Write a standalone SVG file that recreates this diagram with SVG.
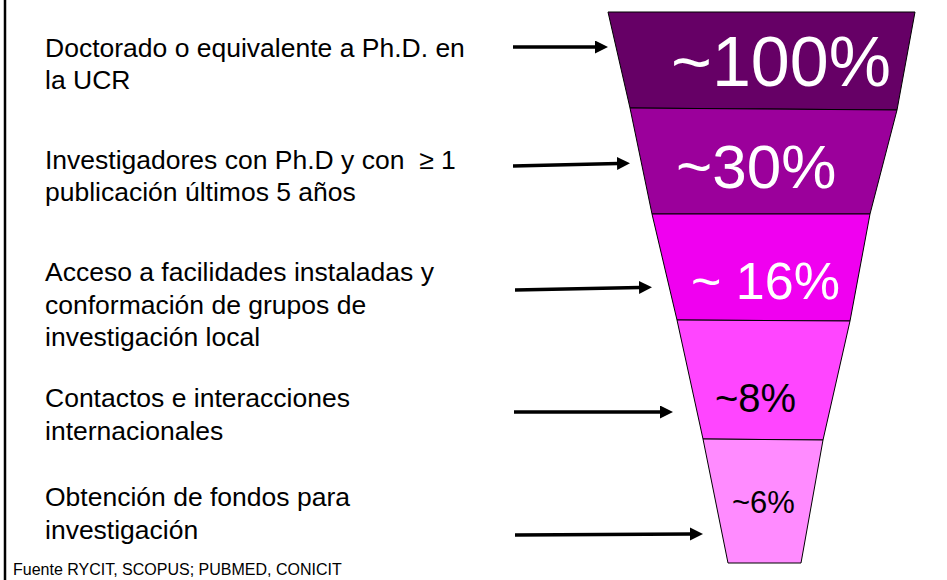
<svg xmlns="http://www.w3.org/2000/svg" width="947" height="580" viewBox="0 0 947 580">
<style>
text{font-family:"Liberation Sans",Arial,sans-serif}
.lbl{font-size:26.5px;fill:#000}
.band{stroke:#000;stroke-width:1}
.pw{fill:#fff}
.pb{fill:#000}
.arr{stroke:#000;stroke-width:3.5;fill:none;marker-end:url(#ah)}
</style>
<defs>
<marker id="ah" markerUnits="userSpaceOnUse" markerWidth="14" markerHeight="14" refX="1" refY="6.5" orient="auto">
<path d="M0,0 L13,6.5 L0,13 z" fill="#000"/>
</marker>
</defs>
<rect width="947" height="580" fill="#fff"/>
<line x1="5" y1="0" x2="5" y2="580" stroke="#000" stroke-width="2.5"/>

<g id="band1">
<polygon class="band" fill="#660066" points="608,12 915,12 897,110 630,108"/>
<text class="pw" x="671" y="86" font-size="70">~100%</text>
</g>
<g id="band2">
<polygon class="band" fill="#9B009B" points="630,108 897,110 870,214 652,214"/>
<text class="pw" x="676" y="188" font-size="62">~30%</text>
</g>
<g id="band3">
<polygon class="band" fill="#F000F0" points="652,214 870,214 850,321 677,320"/>
<text class="pw" x="691" y="299" font-size="52">~ 16%</text>
</g>
<g id="band4">
<polygon class="band" fill="#FF45FF" points="677,320 850,321 823,440 703,439"/>
<text class="pb" x="715" y="412" font-size="40">~8%</text>
</g>
<g id="band5">
<polygon class="band" fill="#FF8BFF" points="703,439 823,440 801,563 728,563"/>
<text class="pb" x="732" y="513" font-size="31">~6%</text>
</g>

<g id="label1">
<text class="lbl" x="45" y="57">Doctorado o equivalente a Ph.D. en</text>
<text class="lbl" x="45" y="89">la UCR</text>
</g>
<g id="label2">
<text class="lbl" x="45" y="169" xml:space="preserve">Investigadores con Ph.D y con  ≥ 1</text>
<text class="lbl" x="45" y="201">publicación últimos 5 años</text>
</g>
<g id="label3">
<text class="lbl" x="45" y="281">Acceso a facilidades instaladas y</text>
<text class="lbl" x="45" y="314">conformación de grupos de</text>
<text class="lbl" x="45" y="346">investigación local</text>
</g>
<g id="label4">
<text class="lbl" x="45" y="407">Contactos e interacciones</text>
<text class="lbl" x="45" y="440">internacionales</text>
</g>
<g id="label5">
<text class="lbl" x="45" y="506">Obtención de fondos para</text>
<text class="lbl" x="45" y="539">investigación</text>
</g>
<g id="source">
<text x="13" y="575" font-size="16" fill="#000">Fuente RYCIT, SCOPUS; PUBMED, CONICIT</text>
</g>

<g id="connectors">
<line class="arr" x1="513" y1="47" x2="596" y2="47"/>
<line class="arr" x1="513" y1="166" x2="618" y2="163.5"/>
<line class="arr" x1="515" y1="290" x2="640" y2="287.5"/>
<line class="arr" x1="514" y1="412" x2="661" y2="412"/>
<line class="arr" x1="515" y1="535" x2="691" y2="534"/>
</g>
</svg>
